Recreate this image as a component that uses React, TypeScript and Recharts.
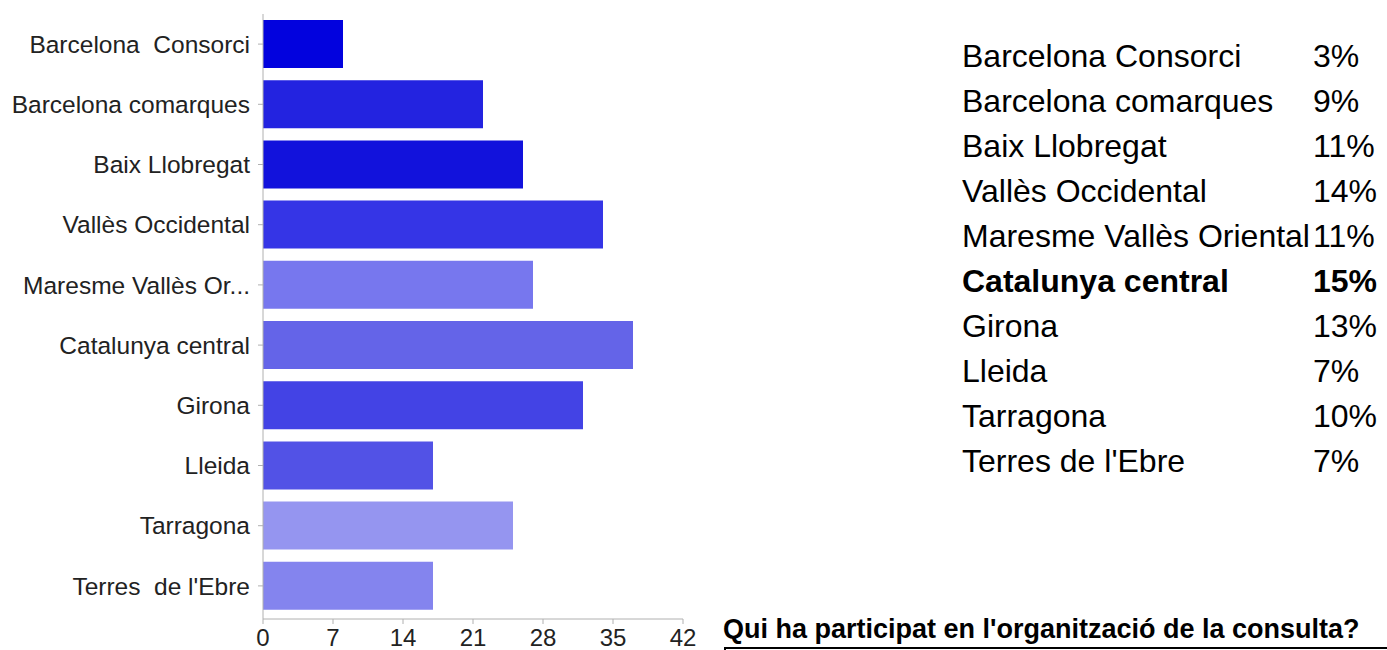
import React from "react";
import { BarChart, Bar, XAxis, YAxis, Cell } from "recharts";

const categories = [
  "Barcelona Consorci",
  "Barcelona comarques",
  "Baix Llobregat",
  "Vallès Occidental",
  "Maresme Vallès Oriental",
  "Catalunya central",
  "Girona",
  "Lleida",
  "Tarragona",
  "Terres de l'Ebre",
];

// labels as printed on the axis (truncated / double spaces kept)
const axisLabels = [
  "Barcelona  Consorci",
  "Barcelona comarques",
  "Baix Llobregat",
  "Vallès Occidental",
  "Maresme Vallès Or...",
  "Catalunya central",
  "Girona",
  "Lleida",
  "Tarragona",
  "Terres  de l'Ebre",
];

const counts = [8, 22, 26, 34, 27, 37, 32, 17, 25, 17];

const barColors = [
  "#0202de",
  "#2323e0",
  "#1212dc",
  "#3535e6",
  "#7777ee",
  "#6464e8",
  "#4343e5",
  "#5252e6",
  "#9595f0",
  "#8484ee",
];

const xTicks = [0, 7, 14, 21, 28, 35, 42];

const question = "Qui ha participat en l'organització de la consulta?";

const FONT = "'Liberation Sans', Arial, Helvetica, sans-serif";

const data = categories.map((name, i) => ({ name, value: counts[i] }));
const total = counts.reduce((a, b) => a + b, 0);
const maxCount = Math.max(...counts);

function YTick(props: any) {
  const { x, y, payload } = props;
  const idx = categories.indexOf(payload.value);
  return (
    <text
      x={x}
      y={y}
      dy="0.355em"
      textAnchor="end"
      fill="#222"
      fontSize={24.5}
      fontFamily={FONT}
      style={{ whiteSpace: "pre" }}
    >
      {axisLabels[idx]}
    </text>
  );
}

export default function App() {
  return (
    <div
      style={{
        position: "absolute",
        left: 0,
        top: 0,
        width: 1387,
        height: 650,
        overflow: "hidden",
        background: "#fff",
        fontFamily: FONT,
      }}
    >
      <BarChart
        width={700}
        height={650}
        data={data}
        layout="vertical"
        barCategoryGap="10%"
        margin={{ top: 14, right: 17, left: 0, bottom: 0 }}
      >
        <XAxis
          type="number"
          domain={[0, 42]}
          ticks={xTicks}
          height={31}
          tickSize={5}
          tickMargin={5}
          stroke="#b0b0b0"
          tick={{ fill: "#222", fontSize: 24, fontFamily: FONT }}
        />
        <YAxis
          type="category"
          dataKey="name"
          width={263}
          tickSize={5}
          tickMargin={8}
          stroke="#b0b0b0"
          padding={{ top: 0, bottom: 3 }}
          interval={0}
          tick={<YTick />}
        />
        <Bar dataKey="value" isAnimationActive={false}>
          {data.map((d, i) => (
            <Cell key={d.name} fill={barColors[i]} />
          ))}
        </Bar>
      </BarChart>

      {categories.map((name, i) => {
        const bold = counts[i] === maxCount;
        const pct = Math.round((counts[i] / total) * 100) + "%";
        return (
          <div
            key={name}
            style={{
              position: "absolute",
              left: 962,
              top: 34 + i * 45,
              height: 45,
              lineHeight: "45px",
              fontSize: 32,
              color: "#000",
              fontWeight: bold ? "bold" : "normal",
              whiteSpace: "nowrap",
            }}
          >
            <span style={{ position: "absolute", left: 0 }}>{name}</span>
            <span style={{ position: "absolute", left: 351 }}>{pct}</span>
          </div>
        );
      })}

      <div
        style={{
          position: "absolute",
          left: 723,
          top: 616,
          fontSize: 27,
          lineHeight: "27px",
          fontWeight: "bold",
          color: "#000",
          whiteSpace: "nowrap",
        }}
      >
        {question}
      </div>
      <div
        style={{
          position: "absolute",
          left: 724,
          top: 647,
          width: 700,
          height: 40,
          border: "2px solid #000",
        }}
      />
    </div>
  );
}
